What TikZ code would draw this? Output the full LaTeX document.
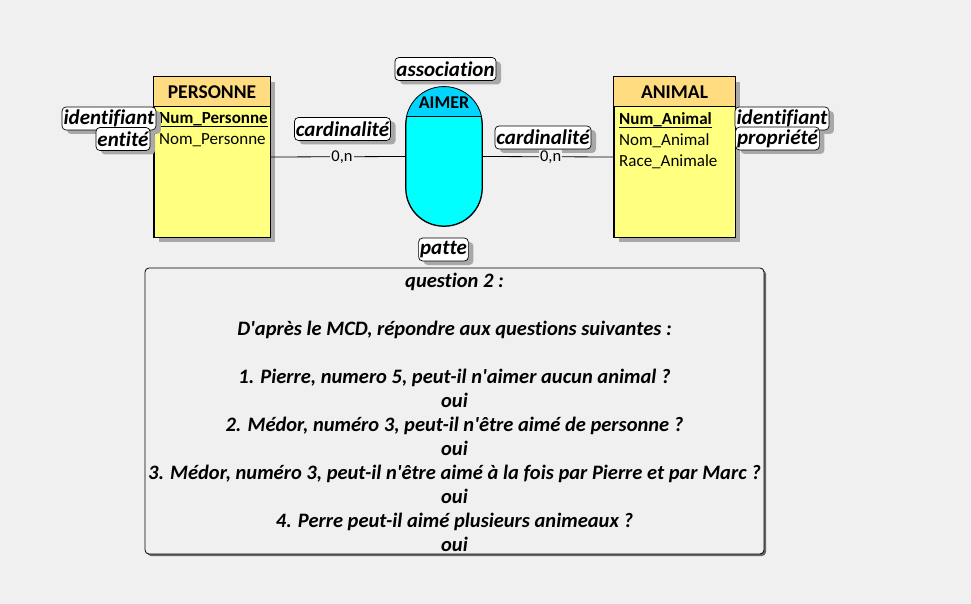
\documentclass[tikz,border=0pt]{standalone}
\usepackage{fontspec}
\setmainfont{Carlito}[Ligatures={TeXOff,CommonOff}]
\usetikzlibrary{shadows}
\definecolor{bg}{HTML}{F0F0F0}
\definecolor{enthead}{HTML}{FFDC80}
\definecolor{entbody}{HTML}{FFFF80}
\definecolor{assohead}{HTML}{00D4FF}
\definecolor{assobody}{HTML}{00FFFF}
\definecolor{shade}{HTML}{A8A8A8}
\begin{document}
\begin{tikzpicture}[x=1pt,y=-1pt,
  entity/.style={draw, line width=0.8pt, fill=entbody, minimum width=#1, minimum height=160pt, inner sep=0pt,
    drop shadow={shadow xshift=5pt, shadow yshift=-5pt, fill=shade, opacity=1}},
  tag/.style={draw, line width=0.7pt, rounded corners=4pt, fill=white, font=\fontsize{21}{23}\selectfont\bfseries\itshape,
    inner xsep=1.5pt, inner ysep=0pt, minimum height=23pt,
    drop shadow={shadow xshift=5pt, shadow yshift=-4pt, fill=shade, opacity=1}},
  ename/.style={font=\fontsize{19.5}{22}\selectfont\bfseries, inner sep=0pt},
  attr/.style={font=\fontsize{17}{20}\selectfont, anchor=west, inner sep=0pt},
  keyattr/.style={font=\fontsize{17}{20}\selectfont\bfseries, anchor=west, inner sep=0pt},
  card/.style={font=\fontsize{16.5}{18}\selectfont, fill=bg, inner xsep=1pt, inner ysep=0pt},
  link/.style={line width=0.8pt}
]
\useasboundingbox[fill=bg] (0,0) rectangle (971,604);

% PERSONNE entity
\node[entity=116pt] (personne) at (212,157) {};
\fill[enthead] ([xshift=0.4pt,yshift=-0.4pt]personne.north west) rectangle ([xshift=-0.4pt,yshift=-30pt]personne.north east);
\draw[line width=0.8pt] ([yshift=-30pt]personne.north west) -- ([yshift=-30pt]personne.north east);
\draw[line width=0.8pt] (personne.north west) rectangle (personne.south east);
\node[ename] (pname) at (212,92) {PERSONNE};
\node[keyattr] (pkey) at (159,119.5) {Num\_Personne};
\path (pkey.south west) ++(0,-0.5pt) coordinate (pu1) (pkey.south east) ++(0,-0.5pt) coordinate (pu2);
\draw[line width=0.8pt] (pu1) -- (pu2);
\node[attr] (pnom) at (159,140.5) {Nom\_Personne};

% ANIMAL entity
\node[entity=121pt] (animal) at (674.5,157) {};
\fill[enthead] ([xshift=0.4pt,yshift=-0.4pt]animal.north west) rectangle ([xshift=-0.4pt,yshift=-30pt]animal.north east);
\draw[line width=0.8pt] ([yshift=-30pt]animal.north west) -- ([yshift=-30pt]animal.north east);
\draw[line width=0.8pt] (animal.north west) rectangle (animal.south east);
\node[ename] (aname) at (674.5,92) {ANIMAL};
\node[keyattr] (akey) at (619,119.5) {Num\_Animal};
\path (akey.south west) ++(0,-0.5pt) coordinate (au1) (akey.south east) ++(0,-0.5pt) coordinate (au2);
\draw[line width=0.8pt] (au1) -- (au2);
\node[attr] (anom) at (619,140.5) {Nom\_Animal};
\node[attr] (arace) at (619,161.5) {Race\_Animale};

% AIMER association
\node[draw, line width=0.8pt, fill=assobody, rounded corners=38pt, minimum width=76pt, minimum height=139pt, inner sep=0pt] (aimer) at (444,156.5) {};
\begin{scope}
  \clip[rounded corners=38pt] (aimer.north west) rectangle (aimer.south east);
  \fill[assohead] (aimer.north west) rectangle ([yshift=-30pt]aimer.north east);
\end{scope}
\draw[line width=0.8pt] ([yshift=-30pt]aimer.north west) -- ([yshift=-30pt]aimer.north east);
\draw[line width=0.8pt, rounded corners=38pt] (aimer.north west) rectangle (aimer.south east);
\node[font=\fontsize{18}{20}\selectfont\bfseries, inner sep=0pt] (aimername) at (444,103) {AIMER};

% tags
\node[tag] (tidp) at (109,118.5) {identifiant};
\node[tag] (tent) at (123,139) {entité};
\node[tag] (tcard1) at (342.5,129) {cardinalité};
\node[tag] (tasso) at (445.5,69) {association};
\node[tag] (tpatte) at (443.5,249.5) {patte};
\node[tag] (tcard2) at (543,137.5) {cardinalité};
\node[tag] (tida) at (782,118.5) {identifiant};
\node[tag] (tprop) at (777.5,138.5) {propriété};

% links
\draw[link] (personne.east) -- (aimer.west) node[card, pos=0.53] (c1) {0,n};
\draw[link] (aimer.east) -- (animal.west) node[card, pos=0.52] (c2) {0,n};

% question box
\node[draw, line width=0.8pt, rounded corners=4pt, fill=bg, minimum width=619pt, minimum height=286pt, inner sep=0pt,
  drop shadow={shadow xshift=2pt, shadow yshift=-2pt, fill=black!60, opacity=1}] (qbox) at (454.5,411) {};
\node[font=\fontsize{20.5}{24}\selectfont\bfseries\itshape, align=center, inner sep=0pt] (qtext) at (454.5,412.5) {%
question 2 :\\ \mbox{}\\
D'après le MCD, répondre aux questions suivantes :\\ \mbox{}\\
1. Pierre, numero 5, peut-il n'aimer aucun animal ?\\
oui\\
2. Médor, numéro 3, peut-il n'être aimé de personne ?\\
oui\\
3. Médor, numéro 3, peut-il n'être aimé à la fois par Pierre et par Marc ?\\
oui\\
4. Perre peut-il aimé plusieurs animeaux ?\\
oui};
\end{tikzpicture}
\end{document}
